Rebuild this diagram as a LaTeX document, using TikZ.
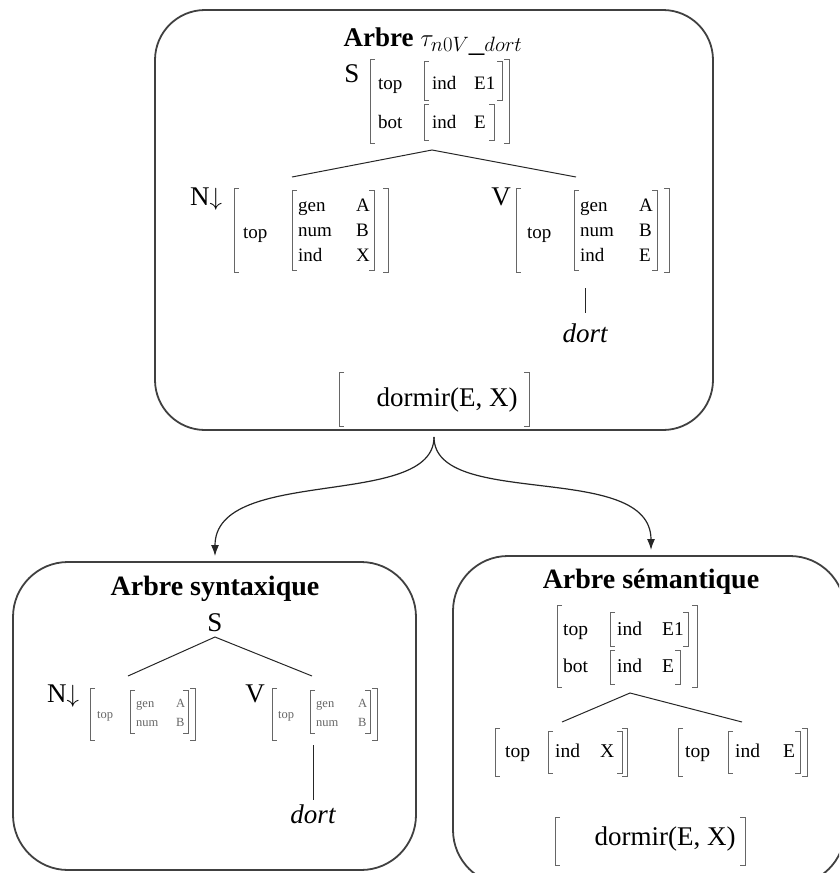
\documentclass[tikz,border=0pt]{standalone}
\usepackage{fontspec}
\setmainfont{Liberation Serif}
\usetikzlibrary{arrows.meta}
\newcommand\fbig{\fontsize{27}{32}\selectfont}
\newcommand\fttl{\fontsize{28}{33}\selectfont\bfseries}
\newcommand\fmat{\fontsize{19}{22}\selectfont}
\newcommand\fmatR{\fontsize{19.5}{22}\selectfont}
\newcommand\fsml{\fontsize{12.5}{15}\selectfont}
\newcommand\serif{5pt}
% bracket pair: name, x1, y1, x2, y2 (pixels, y downwards)
\newcommand\avm[5]{%
  \node[avmnode,minimum width={(#4-#2)*1pt},minimum height={(#5-#3)*1pt}] (#1) at ({(#2+#4)/2},{(#3+#5)/2}) {};
  \draw[brk] ([xshift=\serif]#1.north west) -- (#1.north west) -- (#1.south west) -- ([xshift=\serif]#1.south west)
             ([xshift=-\serif]#1.north east) -- (#1.north east) -- (#1.south east) -- ([xshift=-\serif]#1.south east);}
\begin{document}
\begin{tikzpicture}[x=1pt,y=-1pt,
  box/.style={draw=black!75,line width=1.8pt,rounded corners=50pt,inner sep=0pt,fill=none},
  avmnode/.style={draw=none,inner sep=0pt,outer sep=0pt},
  brk/.style={draw=black!60,line width=0.9pt},
  big/.style={font=\fbig,inner sep=0pt,anchor=base},
  ttl/.style={font=\fttl,inner sep=0pt,anchor=base},
  mt/.style={font=\fmat,inner sep=0pt,anchor=base west},
  mtR/.style={font=\fmatR,inner sep=0pt,anchor=base west},
  ms/.style={font=\fsml,text=black!60,inner sep=0pt,anchor=base west},
  branch/.style={draw=black!85,line width=1pt},
  arr/.style={draw=black!85,line width=1.2pt,-{Latex[length=11pt,width=8pt]}}]
\useasboundingbox (0,0) rectangle (839,873);
\clip (0,0) rectangle (839,873);

% ---------------- main box ----------------
\node[box,minimum width=558pt,minimum height=420pt] (mainbox) at (434,220) {};
\node[ttl,font=\fbig\bfseries] (mtitle) at (433,46) {Arbre {\fontsize{31}{36}\selectfont\mdseries$\tau_{n0V\_dort}$}};
\node[big] (mS) at (352,82) {S};
\avm{smat}{370}{59}{509}{143}
\node[mt] (st1) at (378,89) {top};
\avm{si1}{424}{61}{502}{100}
\node[mt] (si1a) at (432,89) {ind};
\node[mt] (si1b) at (474,89) {E1};
\node[mt] (st2) at (378,128) {bot};
\avm{si2}{424}{104}{494}{140}
\node[mt] (si2a) at (432,128) {ind};
\node[mt] (si2b) at (474,128) {E};

\coordinate (sapex) at (432,150);
\coordinate (nend) at (292,177);
\coordinate (vend) at (576,177);
\draw[branch] (nend) -- (sapex) -- (vend);

\node[big] (mN) at (206,205) {N$\downarrow$};
\avm{nmat}{234}{188}{388}{272}
\node[mt] (nt) at (243,238) {top};
\avm{nin}{292}{190}{374}{270}
\node[mt] (ng) at (298,211) {gen};
\node[mt] (nn) at (298,236) {num};
\node[mt] (ni) at (298,261) {ind};
\node[mt] (ngv) at (356,211) {A};
\node[mt] (nnv) at (356,236) {B};
\node[mt] (niv) at (356,261) {X};

\node[big] (mV) at (501,205) {V};
\avm{vmat}{516}{188}{669}{272}
\node[mt] (vt) at (527,238) {top};
\avm{vin}{574}{190}{657}{270}
\node[mt] (vg) at (580,211) {gen};
\node[mt] (vn) at (580,236) {num};
\node[mt] (vi) at (580,261) {ind};
\node[mt] (vgv) at (639,211) {A};
\node[mt] (vnv) at (639,236) {B};
\node[mt] (viv) at (639,261) {E};

\coordinate (vanc) at (585,288);
\node[big,font=\fbig\itshape] (mdort) at (585,342) {dort};
\coordinate (dortTop) at (585,313);
\draw[branch] (vanc) -- (dortTop);

\avm{mdorm}{339}{372}{529}{426}
\node[big] (mdtxt) at (447,406) {dormir(E, X)};

% ---------------- arrows ----------------
\coordinate (cusp) at (434,437);
\coordinate (ltip) at (215,556);
\coordinate (rtip) at (651,550);
\draw[arr] (cusp) .. controls (434,510) and (215,465) .. (ltip);
\draw[arr] (cusp) .. controls (434,510) and (651,460) .. (rtip);

% ---------------- bottom left box ----------------
\node[box,rounded corners=55pt,minimum width=403pt,minimum height=308pt] (synbox) at (214.5,716) {};
\node[ttl] (syntitle) at (215,595) {Arbre syntaxique};
\node[big] (bS) at (215,631) {S};
\coordinate (bsapex) at (215,637);
\coordinate (bnend) at (128,676);
\coordinate (bvend) at (312,676);
\draw[branch] (bnend) -- (bsapex) -- (bvend);

\node[big] (bN) at (63,702) {N$\downarrow$};
\avm{bnmat}{90}{688}{195}{740}
\node[ms] (bnt) at (97,718) {top};
\avm{bnin}{130}{690}{188}{733}
\node[ms] (bng) at (136,707) {gen};
\node[ms] (bnn) at (136,726) {num};
\node[ms] (bngv) at (176,707) {A};
\node[ms] (bnnv) at (176,726) {B};

\node[big] (bV) at (255,702) {V};
\avm{bvmat}{272}{688}{377}{740}
\node[ms] (bvt) at (278,718) {top};
\avm{bvin}{310}{690}{370}{733}
\node[ms] (bvg) at (316,707) {gen};
\node[ms] (bvn) at (316,726) {num};
\node[ms] (bvgv) at (358,707) {A};
\node[ms] (bvnv) at (358,726) {B};

\coordinate (bvanc) at (313,745);
\coordinate (bdortTop) at (313,800);
\draw[branch] (bvanc) -- (bdortTop);
\node[big,font=\fbig\itshape] (bdort) at (313,823) {dort};

% ---------------- bottom right box ----------------
\node[box,rounded corners=55pt,minimum width=392pt,minimum height=329pt] (sembox) at (649,720.5) {};
\node[ttl] (semtitle) at (651,588) {Arbre sémantique};
\avm{rmat}{557}{605}{697}{687}
\node[mtR] (rt1) at (563,635) {top};
\avm{ri1}{610}{612}{688}{646}
\node[mtR] (ri1a) at (617,635) {ind};
\node[mtR] (ri1b) at (662,635) {E1};
\node[mtR] (rt2) at (563,672) {bot};
\avm{ri2}{610}{650}{680}{684}
\node[mtR] (ri2a) at (617,672) {ind};
\node[mtR] (ri2b) at (662,672) {E};

\coordinate (rapex) at (630,693);
\coordinate (rlend) at (562,722);
\coordinate (rrend) at (742,722);
\draw[branch] (rlend) -- (rapex) -- (rrend);

\avm{rlmat}{495}{728}{627}{776}
\node[mtR] (rlt) at (505,757) {top};
\avm{rlin}{548}{731}{622}{773}
\node[mtR] (rlia) at (555,757) {ind};
\node[mtR] (rlib) at (600,757) {X};

\avm{rrmat}{678}{728}{807}{776}
\node[mtR] (rrt) at (685,757) {top};
\avm{rrin}{728}{731}{800}{773}
\node[mtR] (rria) at (735,757) {ind};
\node[mtR] (rrib) at (783,757) {E};

\avm{rdorm}{555}{817}{745}{865}
\node[big] (rdtxt) at (665,845) {dormir(E, X)};
\end{tikzpicture}
\end{document}
